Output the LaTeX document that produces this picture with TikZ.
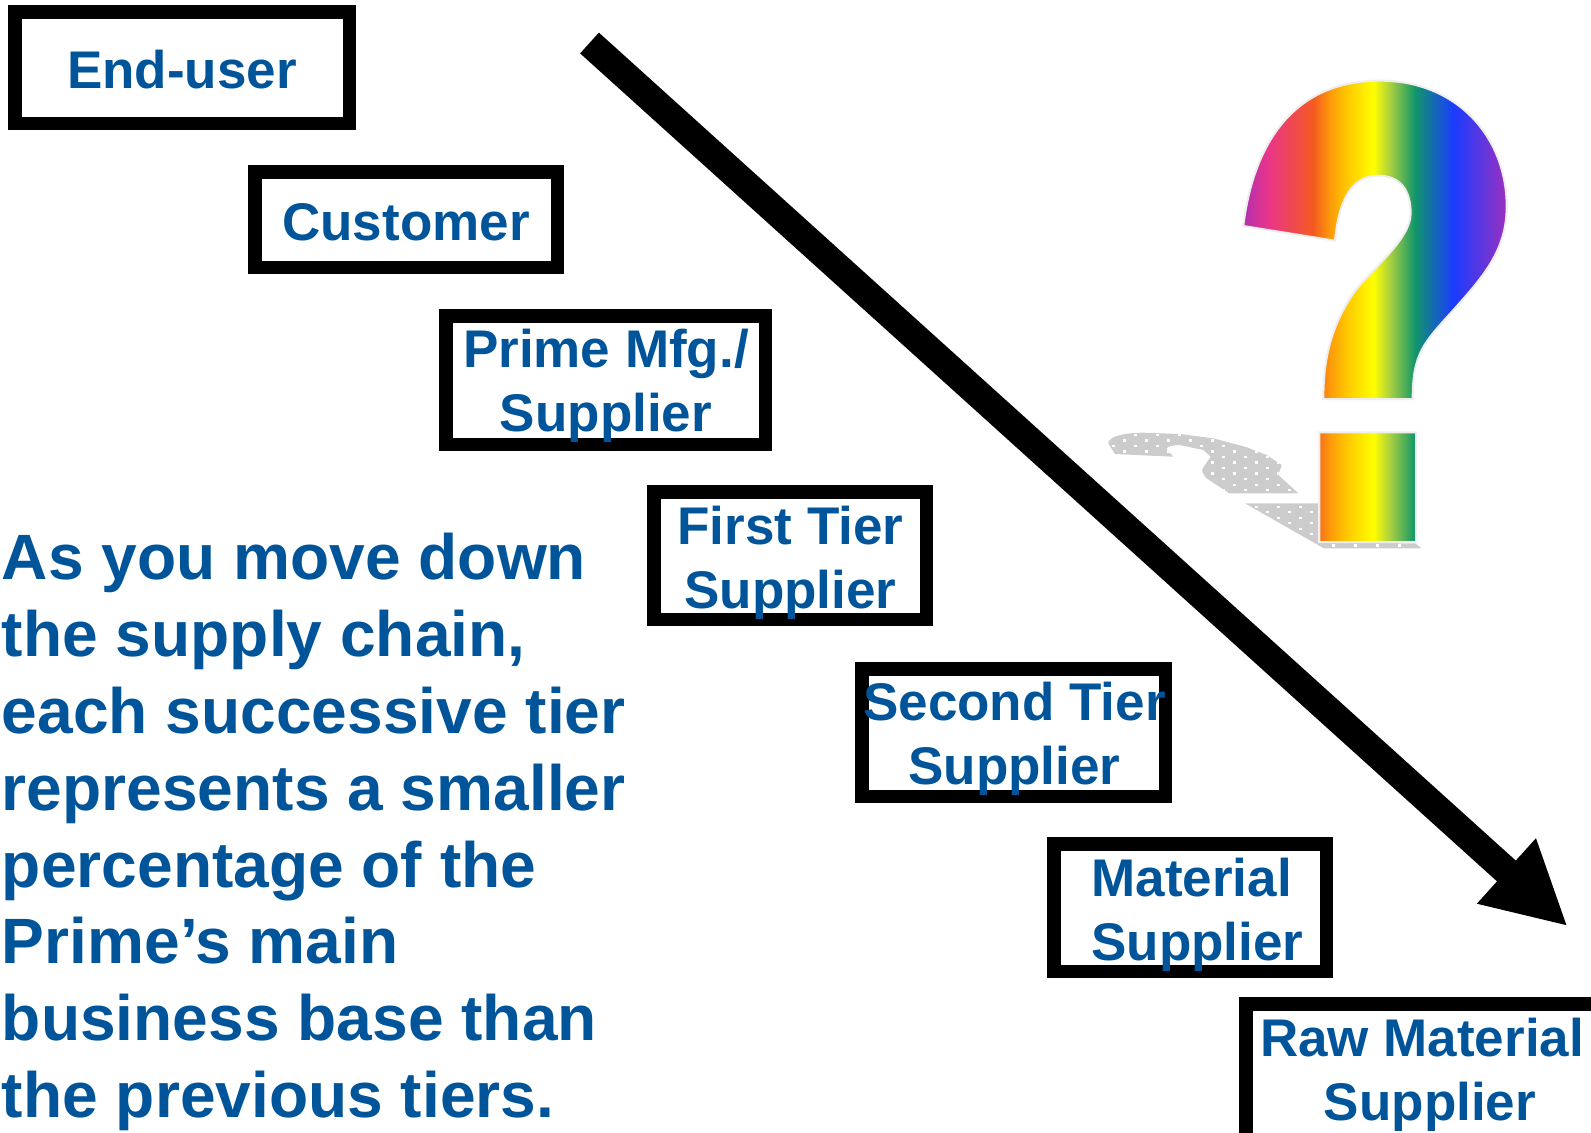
\documentclass[tikz,border=0pt]{standalone}
\usepackage{fontspec}
\setmainfont{Liberation Sans}
\usetikzlibrary{arrows.meta}
\definecolor{tierblue}{HTML}{00559A}
\definecolor{qedge}{HTML}{EEEEEE}
\definecolor{shadowgrey}{HTML}{CCCCCC}
\definecolor{r0}{HTML}{B030B0}
\definecolor{r1}{HTML}{E8348C}
\definecolor{r2}{HTML}{F55A20}
\definecolor{r3}{HTML}{FD9A0A}
\definecolor{r4}{HTML}{FFC800}
\definecolor{r5}{HTML}{FFFF00}
\definecolor{r6}{HTML}{A8D040}
\definecolor{r7}{HTML}{10966A}
\definecolor{r8}{HTML}{1A3CFF}
\definecolor{r9}{HTML}{9A30C0}
\pgfdeclarehorizontalshading{rainbowbar}{100bp}{
 color(0bp)=(r0); color(25bp)=(r0); color(29.45bp)=(r1); color(38.3bp)=(r2);
 color(41.45bp)=(r3); color(44.6bp)=(r4); color(49.7bp)=(r5); color(52.85bp)=(r6);
 color(57.6bp)=(r7); color(64.85bp)=(r8); color(75bp)=(r9); color(100bp)=(r9)}
\tikzset{
 tierbox/.style={draw=black,line width=6.75pt,outer sep=0pt,inner sep=0pt,rectangle,fill=white},
 tiertext/.style={text=tierblue,font=\bfseries\fontsize{26.5}{32}\selectfont,inner sep=0pt,outer sep=0pt},
 noteblock/.style={text=tierblue,font=\bfseries\fontsize{32.05}{38.4}\selectfont,inner sep=0pt,outer sep=0pt,align=left,anchor=north west},
 bigarrow/.style={line width=14pt,-{Triangle[length=41.3pt,width=40.85pt]}},
}
\newcommand{\tierrect}[5]{\node[tierbox,minimum width={(#4-#2-13.5)*0.5pt},minimum height={(#5-#3-13.5)*0.5pt}] (#1) at ({(#2+#4)/2},{(#3+#5)/2}) {};}
\begin{document}
\begin{tikzpicture}[x=0.5pt,y=-0.5pt]
\clip (0,0) rectangle (1591,1132);
\fill[white] (0,0) rectangle (1591,1132);
% boxes
\tierrect{b1}{8}{5}{356}{130}
\tierrect{b2}{248}{165}{564}{274}
\tierrect{b3}{439}{309}{772}{451}
\tierrect{b4}{647}{485}{933}{626}
\tierrect{b5}{855}{662}{1172}{803}
\tierrect{b6}{1047}{837}{1333}{978}
\tierrect{b7}{1239}{997}{1640}{1160}
% box texts
\node[tiertext,anchor=base] (t1) at (182,88) {End-user};
\node[tiertext,anchor=base] (t2) at (406,240) {Customer};
\node[tiertext,align=center] (t3) at (606,386) {Prime Mfg./\\Supplier};
\node[tiertext,align=center] (t4) at (790.5,563) {First Tier\\Supplier};
\node[tiertext,align=center] (t5) at (1014.5,739) {Second Tier\\Supplier};
\node[tiertext,align=left] (t6) at (1197.5,915) {Material\\Supplier};
\node[tiertext,align=center] (t7) at (1422,1075) {Raw Material\\\hspace*{8pt}Supplier};
% note
\node[noteblock] (note) at (2,533.5) {As you move down\\the supply chain,\\each successive tier\\represents a smaller\\percentage of the\\Prime’s main\\business base than\\the previous tiers.};
% arrow
\coordinate (arrowstart) at (589.5,43);
\coordinate (arrowend) at (1567.7,926.3);
\draw[bigarrow] (arrowstart) -- (arrowend);
% question mark and shadow (coordinates of the 3x crop)
\begin{scope}[shift={(1090,60)},x=0.16667pt,y=-0.16667pt]
 \begin{scope}
  \clip (55,1150) .. controls (55,1125) and (120,1118) .. (160,1118) -- (270,1122) -- (370,1135) -- (465,1160) -- (530,1185) -- (575,1215) -- (565,1245) -- (625,1300) -- (418,1300) -- (350,1255) .. controls (335,1240) and (335,1225) .. (338,1225) -- (362,1190) -- (340,1170) -- (270,1155) .. controls (245,1155) and (230,1160) .. (230,1168) -- (250,1190) -- (75,1182) -- cycle
   (465,1330) -- (684,1330) -- (684,1448) -- (975,1450) -- (995,1465) -- (702,1465) -- cycle;
  \fill[shadowgrey] (0,1100) rectangle (1000,1480);
  \foreach \r in {0,...,20}{
   \foreach \n in {-1,...,14}{
    \pgfmathsetmacro{\dotx}{136+66*\n-33*mod(\r,2)}
    \pgfmathsetmacro{\doty}{1125+16.55*\r}
    \fill[white] (\dotx-3.5,\doty-3.5) rectangle (\dotx+3.5,\doty+3.5);
   }}
 \end{scope}
 \def\qpath{(460,498) .. controls (480,330) and (560,62) .. (870,62)
   .. controls (1100,62) and (1250,230) .. (1250,440)
   .. controls (1250,570) and (1180,650) .. (1090,750)
   .. controls (1000,850) and (968,880) .. (968,1017)
   -- (700,1017) .. controls (700,880) and (730,790) .. (790,700)
   .. controls (840,630) and (962,540) .. (962,460)
   .. controls (962,390) and (930,347) .. (865,347)
   .. controls (780,347) and (745,430) .. (735,542) -- cycle
   (688,1117) rectangle (978,1446)}
 \begin{scope}
  \clip \qpath;
  \shade[shading=rainbowbar] (460,40) rectangle (1250,1470);
 \end{scope}
 \draw[qedge,line width=1pt] \qpath;
\end{scope}
\end{tikzpicture}
\end{document}
